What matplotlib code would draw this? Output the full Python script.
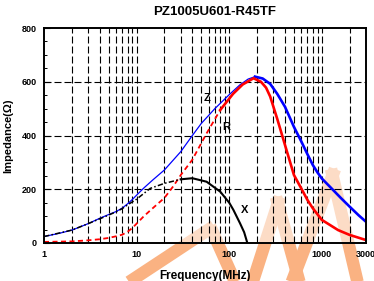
import numpy as np
import matplotlib
matplotlib.use("Agg")
import matplotlib.pyplot as plt
from matplotlib.lines import Line2D
from matplotlib.ticker import FixedLocator, NullFormatter

plt.rcParams['font.family'] = ['Liberation Sans', 'DejaVu Sans']
plt.rcParams['font.weight'] = 'bold'

title = "PZ1005U601-R45TF"

# impedance |Z|
z_freq = [1, 1.5, 2, 3, 4, 5, 6, 7, 8, 9, 10, 12, 15, 20, 30, 40, 50, 70, 100, 130, 160, 190,
          230, 277, 330, 400, 500, 600, 700, 800, 900, 1000, 1300, 1600, 2000, 2500, 3000]
z_val = [24, 37, 48, 72, 92, 106, 117, 130, 146, 162, 178, 205, 235, 272, 340, 400, 445, 500, 552, 588, 610, 619,
         612, 592, 555, 507, 432, 378, 330, 290, 262, 240, 200, 168, 135, 103, 79]

# resistance R
r_freq = [1, 2, 3, 4, 5, 6, 7, 8, 9, 10, 12, 15, 20, 25, 30, 40, 57, 80,
          110, 140, 183, 220, 250, 277, 330, 400, 500, 600, 700, 800, 1000, 1500, 2000, 3000]
r_val = [4, 6, 10, 14, 19, 25, 31, 42, 56, 72, 100, 130, 168, 212, 253, 310, 408, 495,
         555, 590, 613, 600, 578, 545, 462, 365, 253, 203, 160, 129, 86, 48, 30, 11]

# reactance X
x_freq = [1, 2, 3, 4, 5, 6, 7, 8, 10, 14, 20, 30, 40, 57, 80, 100, 111, 131, 145, 157]
x_val = [24, 48, 72, 90, 104, 116, 128, 142, 163, 203, 222, 237, 241, 228, 191, 150, 123, 73, 40, 0]

# curve names and where they sit (freq, ohm)
curve_labels = ["Z", "R", "X"]
label_freq = [57, 94, 145]
label_val = [538, 433, 123]

x_ticks = [1, 10, 100, 1000, 3000]
y_ticks = [0, 200, 400, 600, 800]

fig = plt.figure(figsize=(3.74, 2.81), dpi=100, facecolor='white')
ax = fig.add_axes([44/374, 38/281, 322/374, 215/281])
ax.set_facecolor((1, 1, 1, 0.55))

ax.set_xscale('log')
ax.set_xlim(1, 3000)
ax.set_ylim(0, 800)

# grid lines
grid_x = [m * 10**d for d in range(0, 4) for m in range(1, 10) if 1 < m * 10**d < 3000]
for g in grid_x:
    ax.axvline(g, color='black', lw=0.8, dashes=(6.3, 2.7), zorder=1)
for g in [200, 400, 600]:
    ax.axhline(g, color='black', lw=0.8, dashes=(6.3, 2.7), zorder=1)

zf, zv = np.array(z_freq), np.array(z_val)
rf, rv = np.array(r_freq), np.array(r_val)
xf, xv = np.array(x_freq), np.array(x_val)

kz = list(z_freq).index(190)
ax.plot(zf[:kz+1], zv[:kz+1], color='#0000ff', lw=0.9, zorder=3)
ax.plot(zf[kz:], zv[kz:], color='#0000ff', lw=1.9, zorder=3)

kr = list(r_freq).index(80)
ax.plot(rf[:kr+1], rv[:kr+1], color='#ff0000', lw=1.3, dashes=(2.8, 1.9), zorder=3)
ax.plot(rf[kr:], rv[kr:], color='#ff0000', lw=1.9, zorder=3)

kx = list(x_freq).index(30)
ax.plot(xf[:kx+1], xv[:kx+1], color='black', lw=1.1, dashes=(3.5, 1.5, 1, 1.5), zorder=4)
ax.plot(xf[kx:], xv[kx:], color='black', lw=1.5, zorder=4)

for name, f, v in zip(curve_labels, label_freq, label_val):
    ax.text(f, v, name, fontsize=8, fontweight='bold', ha='center', va='center', zorder=6)

ax.xaxis.set_major_locator(FixedLocator(x_ticks))
ax.set_xticklabels([str(t) for t in x_ticks])
ax.xaxis.set_minor_locator(FixedLocator([]))
ax.xaxis.set_minor_formatter(NullFormatter())
ax.set_yticks(y_ticks)
ax.yaxis.set_minor_locator(FixedLocator(np.arange(0, 801, 50)))
ax.tick_params(axis='both', which='major', direction='in', labelsize=6.5, length=4, width=0.8)
ax.tick_params(axis='x', which='major', length=0, pad=5)
ax.tick_params(axis='y', which='major', pad=5)
ax.tick_params(axis='y', which='minor', direction='in', length=2.5, width=0.7)
for lab in ax.get_xticklabels() + ax.get_yticklabels():
    lab.set_fontweight('bold')

for s in ax.spines.values():
    s.set_linewidth(1.4)
    s.set_zorder(5)

ax.set_xlabel("Frequency(MHz)", fontsize=8.5, fontweight='bold')
ax.set_ylabel("Impedance(Ω)", fontsize=8, fontweight='bold')
ax.xaxis.set_label_coords(0.5, -0.125)
ax.yaxis.set_label_coords(-0.097, 0.5)

fig.text(215/374, 1 - 12/281, title, fontsize=9.5, fontweight='bold', ha='center', va='center')

# watermark strokes, pixel coords from the top-left corner
marks = [(126, 284, 214, 226), (210, 226, 236, 284), (252, 284, 280, 197),
         (276, 197, 300, 284), (291, 284, 335, 169), (331, 169, 358, 284)]
for x0, y0, x1, y1 in marks:
    fig.add_artist(Line2D([x0/374, x1/374], [1 - y0/281, 1 - y1/281], transform=fig.transFigure,
                          color='#fab282', lw=9, solid_capstyle='butt', zorder=-1))

fig.savefig("out.png", dpi=100, facecolor='white')
